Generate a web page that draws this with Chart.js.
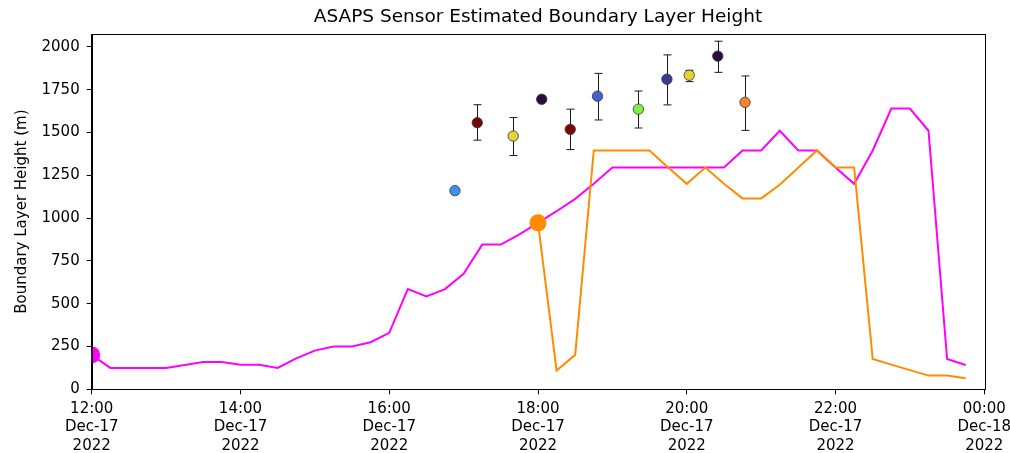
<!DOCTYPE html>
<html>
<head>
<meta charset="utf-8">
<script src="https://cdn.jsdelivr.net/npm/chart.js@4.4.1/dist/chart.umd.min.js"></script>
<style>
  html, body { margin: 0; padding: 0; background: #ffffff; }
  #wrap { width: 1010px; height: 453px; }
</style>
</head>
<body>
<div id="wrap"><canvas id="c" width="1010" height="453"></canvas></div>
<script>
// Sensor profile A (magenta), 15-minute samples
const magentaTimes = ['12:00','12:15','12:30','12:45','13:00','13:15','13:30','13:45',
  '14:00','14:15','14:30','14:45','15:00','15:15','15:30','15:45',
  '16:00','16:15','16:30','16:45','17:00','17:15','17:30','17:45',
  '18:00','18:15','18:30','18:45','19:00','19:15','19:30','19:45',
  '20:00','20:15','20:30','20:45','21:00','21:15','21:30','21:45',
  '22:00','22:15','22:30','22:45','23:00','23:15','23:30','23:45'];
const magentaValues = [201,125,125,125,125,142,160,160,
  144,144,125,181,226,250,250,275,
  330,585,542,585,675,845,845,905,
  972,1040,1112,1200,1295,1295,1295,1295,
  1295,1295,1295,1395,1395,1510,1395,1395,
  1295,1200,1395,1640,1640,1510,177,142];

// Sensor profile B (orange), 15-minute samples
const orangeTimes = ['18:00','18:15','18:30','18:45','19:00','19:15','19:30','19:45',
  '20:00','20:15','20:30','20:45','21:00','21:15','21:30','21:45',
  '22:00','22:15','22:30','22:45','23:00','23:15','23:30','23:45'];
const orangeValues = [972,109,201,1395,1395,1395,1395,1295,
  1200,1295,1200,1115,1115,1195,1295,1395,
  1295,1295,177,144,112,80,80,64];

// Individual estimates with uncertainty range
const pointTimes  = ['16:53','17:11','17:40','18:03','18:26','18:48','19:21','19:44','20:02','20:25','20:47'];
const pointValues = [1160,1557,1479,1694,1518,1712,1636,1811,1834,1946,1676];
const pointLow    = [1160,1455,1365,1694,1400,1573,1526,1661,1797,1851,1512];
const pointHigh   = [1160,1662,1587,1694,1636,1845,1742,1953,1863,2033,1830];
const pointColors = ['#3a93ea','#780808','#e4d236','#2a0f3e','#780808','#4361d3',
  '#80ee46','#3a3d92','#e4d332','#2a0f3e','#f5852a'];

// Axis ticks
const xTickTimes = ['12:00','14:00','16:00','18:00','20:00','22:00','00:00'];
const xTickDates = ['Dec-17','Dec-17','Dec-17','Dec-17','Dec-17','Dec-17','Dec-18'];
const xTickYear  = '2022';
const yTicks = [0,250,500,750,1000,1250,1500,1750,2000];

// "HH:MM" on the afternoon of Dec-17 -> hours, with 00:00 meaning the following midnight
function toHours(t) {
  const [h, m] = t.split(':').map(Number);
  let v = h + m / 60;
  if (v < 12) v += 24;
  return v;
}
const pts = (times, vals) => times.map((t, i) => ({ x: toHours(t), y: vals[i] }));

const FONT = 'DejaVu Sans';
Chart.defaults.font.family = FONT;
Chart.defaults.color = '#000';

// Vertical error bars with caps, drawn under the markers of the estimate series
const errorBars = {
  id: 'errorBars',
  beforeDatasetDraw(chart, args) {
    if (args.index !== 0) return;
    const { ctx, scales: { x, y } } = chart;
    ctx.save();
    ctx.strokeStyle = '#1a1a1a';
    ctx.lineWidth = 1;
    pointTimes.forEach((t, i) => {
      const px = Math.round(x.getPixelForValue(toHours(t))) + 0.5;
      const yl = y.getPixelForValue(pointLow[i]);
      const yh = y.getPixelForValue(pointHigh[i]);
      ctx.beginPath();
      ctx.moveTo(px, yl); ctx.lineTo(px, yh);
      ctx.moveTo(px - 4, yl); ctx.lineTo(px + 4, yl);
      ctx.moveTo(px - 4, yh); ctx.lineTo(px + 4, yh);
      ctx.stroke();
    });
    ctx.restore();
  }
};

// Box around the plotting area
const frame = {
  id: 'frame',
  afterDatasetsDraw(chart) {
    const { ctx, chartArea: a } = chart;
    ctx.save();
    ctx.strokeStyle = '#000';
    ctx.lineWidth = 1;
    ctx.strokeRect(Math.round(a.left) + 0.5, Math.round(a.top) + 0.5,
      Math.round(a.right - a.left), Math.round(a.bottom - a.top));
    ctx.restore();
  }
};

new Chart(document.getElementById('c'), {
  type: 'line',
  data: {
    datasets: [
      {
        type: 'scatter',
        data: pts(pointTimes, pointValues),
        backgroundColor: pointColors,
        borderColor: '#333333',
        borderWidth: 0.8,
        pointRadius: 5.2,
        showLine: false
      },
      {
        data: [pts(orangeTimes, orangeValues)[0]],
        showLine: false,
        pointRadius: 8.5,
        pointBorderWidth: 0,
        backgroundColor: '#ff8c00',
        borderColor: '#ff8c00',
        clip: 0
      },
      {
        data: [pts(magentaTimes, magentaValues)[0]],
        showLine: false,
        pointRadius: 8.5,
        pointBorderWidth: 0,
        backgroundColor: '#ff00ff',
        borderColor: '#ff00ff',
        clip: 0
      },
      {
        data: pts(orangeTimes, orangeValues),
        borderColor: '#ff8c00',
        borderWidth: 2,
        pointRadius: 0,
        tension: 0,
        fill: false
      },
      {
        data: pts(magentaTimes, magentaValues),
        borderColor: '#ff00ff',
        borderWidth: 2,
        pointRadius: 0,
        tension: 0,
        fill: false
      }
    ]
  },
  options: {
    responsive: false,
    animation: false,
    devicePixelRatio: 1,
    events: [],
    layout: { padding: { left: 0, right: 25.7, top: 0, bottom: 0 } },
    plugins: {
      legend: { display: false },
      tooltip: { enabled: false },
      title: {
        display: true,
        text: 'ASAPS Sensor Estimated Boundary Layer Height',
        fullSize: false,
        color: '#000',
        font: { family: FONT, size: 18.5, weight: 'normal', lineHeight: 1.2 },
        padding: { top: 6, bottom: 5.8 }
      }
    },
    scales: {
      x: {
        type: 'linear',
        min: 12,
        max: 24,
        afterBuildTicks(scale) {
          scale.ticks = xTickTimes.map(t => ({ value: toHours(t) }));
        },
        afterFit(scale) {
          scale.height = 63.7;
          scale.paddingLeft = 0;
          scale.paddingRight = 0;
        },
        grid: { drawOnChartArea: false, drawTicks: true, tickLength: 5, color: '#000', lineWidth: 1 },
        border: { display: true, color: '#000', width: 1 },
        ticks: {
          autoSkip: false,
          maxRotation: 0,
          padding: 5,
          color: '#000',
          font: { family: FONT, size: 15, lineHeight: 1.25 },
          callback(value, index) {
            return [xTickTimes[index], xTickDates[index], xTickYear];
          }
        }
      },
      y: {
        type: 'linear',
        min: 0,
        max: 2075,
        afterBuildTicks(scale) {
          scale.ticks = yTicks.map(v => ({ value: v }));
        },
        afterFit(scale) {
          scale.width = 91.7;
          scale.paddingTop = 0;
          scale.paddingBottom = 0;
        },
        grid: { drawOnChartArea: false, drawTicks: true, tickLength: 5, color: '#000', lineWidth: 1 },
        border: { display: true, color: '#000', width: 1 },
        ticks: {
          padding: 7,
          color: '#000',
          font: { family: FONT, size: 15 },
          callback: v => String(v)
        },
        title: {
          display: true,
          text: 'Boundary Layer Height (m)',
          color: '#000',
          font: { family: FONT, size: 15, lineHeight: 1.2 },
          padding: { top: 13.5, bottom: 0 }
        }
      }
    }
  },
  plugins: [errorBars, frame]
});
</script>
</body>
</html>
